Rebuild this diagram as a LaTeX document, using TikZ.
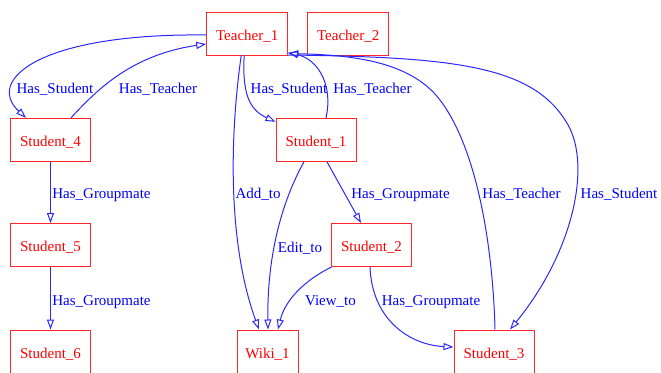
\documentclass[tikz,border=0pt]{standalone}
\usepackage{fontspec}
\setmainfont{Liberation Serif}
\newfontfamily\gvserif{Liberation Serif}
\usetikzlibrary{arrows.meta,calc}
\definecolor{edgeblue}{RGB}{40,40,255}
\definecolor{boxred}{RGB}{255,40,40}
\tikzset{
  box/.style={draw=boxred, line width=1pt, text=red, rectangle, minimum height=43pt,
    inner sep=0pt, text height=13pt, text depth=0pt, font=\gvserif\fontsize{15}{18}\selectfont},
  stud/.style={box, minimum width=80pt},
  edge/.style={draw=edgeblue, line width=1pt, -{Triangle[open,length=10pt,width=7pt]}},
  lab/.style={text=blue, anchor=base, inner sep=0pt, font=\gvserif\fontsize{15}{18}\selectfont}
}
\begin{document}
\begin{tikzpicture}[x=1pt,y=-1pt]
\useasboundingbox (0,0) rectangle (661,372);
\clip (0,0) rectangle (661,372);
% nodes
\node[box, minimum width=81pt] (T1) at (247.2,33.5) {Teacher\_1};
\node[box, minimum width=81pt] (T2) at (348.2,33.5) {Teacher\_2};
\node[stud] (S4) at (50.5,139.8) {Student\_4};
\node[stud] (S1) at (316,139.8) {Student\_1};
\node[stud] (S5) at (50.5,245) {Student\_5};
\node[stud] (S2) at (371.5,245) {Student\_2};
\node[stud] (S6) at (50.5,351.5) {Student\_6};
\node[box, minimum width=61pt] (W1) at (267.5,351.5) {Wiki\_1};
\node[stud] (S3) at (494,351.5) {Student\_3};
% edges
\draw[edge] ($(T1.west)+(0,1.5)$) .. controls (40,33) and (-15,80) .. ($(S4.north)+(-24.5,0)$);
\draw[edge] ($(S4.north)+(20.5,0)$) .. controls (95,92) and (130,55) .. ($(T1.west)+(0,10.5)$);
\draw[edge] ($(T1.south)+(-3,0)$) .. controls (242,95) and (250,110) .. ($(S1.north west)+(0,4)$);
\draw[edge] ($(S1.north)+(10,0)$) .. controls (333,88) and (320,60) .. ($(T1.south east)+(0,-3)$);
\draw[edge] ($(S3.north)+(1,0)$) .. controls (493,250) and (478,150) .. (440,100)
  .. controls (410,60.5) and (350,55) .. ($(T1.south east)+(0,-2)$);
\draw[edge] ($(T1.south east)+(0,-0.5)$) .. controls (450,57) and (530,65) .. (565,120)
  .. controls (593,160) and (575,250) .. ($(S3.north)+(16,0)$);
\draw[edge] ($(T1.south)+(-6,0)$) .. controls (228,150) and (230,250) .. ($(W1.north)+(-8.5,0)$);
\draw[edge] ($(S1.south)+(-12,0)$) .. controls (280,205) and (267,260) .. ($(W1.north)+(0.5,0)$);
\draw[edge] ($(S2.south west)+(0.5,0)$) .. controls (305,280) and (285,300) .. ($(W1.north)+(10.5,0)$);
\draw[edge] ($(S1.south)+(11,0)$) -- ($(S2.north)+(-10.5,0)$);
\draw[edge] ($(S2.south)+(-1.5,0)$) .. controls (372,320) and (410,345) .. ($(S3.west)+(0,-4.5)$);
\draw[edge] (S4.south) -- (S5.north);
\draw[edge] (S5.south) -- (S6.north);
% labels
\node[lab] (l1) at (55,93.3) {Has\_Student};
\node[lab] (l2) at (158,93.3) {Has\_Teacher};
\node[lab] (l3) at (289,93.3) {Has\_Student};
\node[lab] (l4) at (372.5,93.3) {Has\_Teacher};
\node[lab] (l5) at (258,198.5) {Add\_to};
\node[lab] (l6) at (300,252.5) {Edit\_to};
\node[lab] (l7) at (330.5,305) {View\_to};
\node[lab] (l8) at (400.5,198.5) {Has\_Groupmate};
\node[lab] (l9) at (521.5,198.5) {Has\_Teacher};
\node[lab] (l10) at (619,198.5) {Has\_Student};
\node[lab] (l11) at (431,305) {Has\_Groupmate};
\node[lab] (l12) at (101.5,198.5) {Has\_Groupmate};
\node[lab] (l13) at (101.5,305) {Has\_Groupmate};
\end{tikzpicture}
\end{document}
